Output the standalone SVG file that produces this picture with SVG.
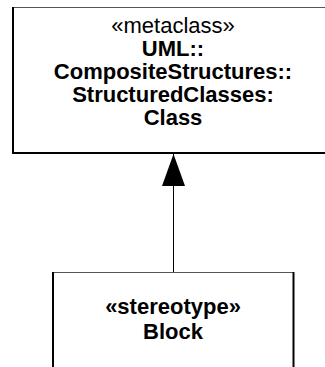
<svg xmlns="http://www.w3.org/2000/svg" width="325" height="367" viewBox="0 0 325 367">
  <style>
    text { font-family: "Liberation Sans", Arial, sans-serif; text-anchor: middle; fill: #000; }
    .kw { font-size: 22px; }
    .nm { font-size: 22px; font-weight: bold; }
    .edge { stroke: #000; stroke-width: 2; fill: none; }
    .thin { stroke: #555; stroke-width: 1; fill: none; }
  </style>
  <defs>
    <!-- hollow-less UML generalization head, drawn pointing along +x -->
    <marker id="generalization" viewBox="0 0 32 23" refX="32" refY="11.5" markerWidth="32" markerHeight="23" markerUnits="userSpaceOnUse" orient="auto">
      <path d="M32 11.5 L0 0 L0 23 Z" fill="#000"/>
    </marker>
  </defs>

  <!-- metaclass Class -->
  <g id="metaclass-class">
    <rect x="13" y="7.5" width="320" height="145.5" fill="#fff"/>
    <line class="thin" x1="12" y1="7.5" x2="325" y2="7.5"/>
    <line class="edge" x1="13" y1="7" x2="13" y2="154"/>
    <line class="edge" x1="12" y1="153" x2="325" y2="153"/>
    <text class="kw" x="173" y="33">«metaclass»</text>
    <text class="nm" x="173" y="56">UML::</text>
    <text class="nm" x="173" y="79">CompositeStructures::</text>
    <text class="nm" x="173" y="102">StructuredClasses:</text>
    <text class="nm" x="173" y="125">Class</text>
  </g>

  <!-- stereotype Block -->
  <g id="stereotype-block">
    <rect x="53" y="273" width="240" height="94" fill="#fff"/>
    <line class="thin" x1="52" y1="272.5" x2="294" y2="272.5"/>
    <line class="edge" x1="53" y1="272" x2="53" y2="367"/>
    <line class="edge" x1="293.5" y1="272" x2="293.5" y2="367"/>
    <text class="nm" x="173" y="314">«stereotype»</text>
    <text class="nm" x="173" y="339">Block</text>
  </g>

  <!-- generalization Block to Class -->
  <g id="connectors">
    <path d="M173.5 272 L173.5 154" stroke="#000" stroke-width="1" fill="none" marker-end="url(#generalization)"/>
  </g>
</svg>
